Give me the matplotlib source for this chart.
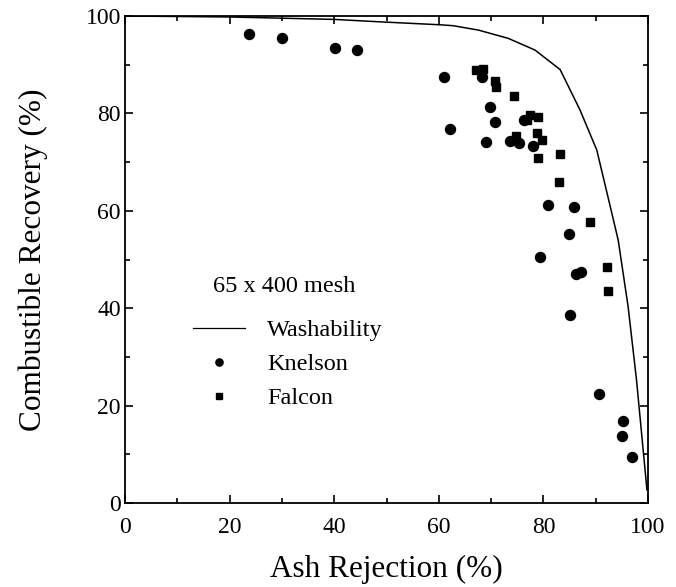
import matplotlib
matplotlib.use("Agg")
import matplotlib.pyplot as plt
from matplotlib.lines import Line2D
from matplotlib.ticker import MultipleLocator

plt.rcParams['font.family'] = ['Liberation Serif', 'DejaVu Serif']

# Washability curve
wash_x = [0, 20, 40, 48.8, 60.2, 62.8, 67.6, 73.3, 78.4, 83.2, 87.0, 90.2, 92.4, 94.3, 96.2, 97.8, 99.8]
wash_y = [100, 99.8, 99.3, 98.8, 98.2, 98.0, 97.1, 95.4, 93.0, 89.0, 80.7, 72.5, 62.6, 54.0, 40.3, 25.3, 2.7]

# Knelson
knelson_x = [23.8, 30.1, 40.2, 44.3, 60.9, 62.1, 68.2, 69.8, 70.8, 69.0, 73.6, 75.3, 76.3, 78.0,
             80.9, 85.9, 84.9, 79.4, 86.2, 87.2, 85.1, 90.7, 95.3, 95.0, 97.0]
knelson_y = [96.3, 95.5, 93.5, 93.0, 87.4, 76.8, 87.4, 81.3, 78.2, 74.1, 74.4, 74.0, 78.6, 73.4,
             61.1, 60.8, 55.3, 50.6, 47.0, 47.4, 38.6, 22.3, 16.8, 13.8, 9.5]

# Falcon
falcon_x = [67.2, 68.4, 70.8, 71.0, 74.4, 77.4, 79.0, 76.9, 78.7, 79.8, 74.8, 79.0, 83.2, 82.9, 88.9, 92.1, 92.4]
falcon_y = [88.9, 89.2, 86.7, 85.4, 83.6, 79.7, 79.2, 78.6, 76.0, 74.5, 75.4, 70.8, 71.6, 66.0, 57.8, 48.5, 43.6]

legend_title = '65 x 400 mesh'
legend_labels = ['Washability', 'Knelson', 'Falcon']

fig = plt.figure(figsize=(6.76, 5.87), dpi=100)
ax = fig.add_axes([125/676, 1-503/587, 523/676, 487/587])

ax.plot(wash_x, wash_y, color='black', lw=1.1)
ax.plot(knelson_x, knelson_y, 'o', color='black', ms=7.2, ls='none')
ax.plot(falcon_x, falcon_y, 's', color='black', ms=6.3, ls='none')

ax.set_xlim(0, 100)
ax.set_ylim(0, 100)
ax.xaxis.set_major_locator(MultipleLocator(20))
ax.xaxis.set_minor_locator(MultipleLocator(10))
ax.yaxis.set_major_locator(MultipleLocator(20))
ax.yaxis.set_minor_locator(MultipleLocator(10))
ax.tick_params(which='both', direction='in', top=True, right=True, labelsize=17, width=1.2)
ax.tick_params(axis='x', pad=10)
ax.tick_params(axis='y', pad=3)
ax.tick_params(which='major', length=6)
ax.tick_params(which='minor', length=3.5)
for s in ax.spines.values():
    s.set_linewidth(1.3)

ax.set_xlabel('Ash Rejection (%)', fontsize=22.5, labelpad=12)
ax.set_ylabel('Combustible Recovery (%)', fontsize=22.5, labelpad=27)

fig.text(213/676, 1-287/587, legend_title, fontsize=17.5, ha='left', va='center')

handles = [
    Line2D([], [], color='black', lw=0.9),
    Line2D([], [], marker='o', color='black', ls='none', ms=5.2),
    Line2D([], [], marker='s', color='black', ls='none', ms=4.6),
]
leg = ax.legend(handles, legend_labels, frameon=False, fontsize=17.5,
                loc='upper left',
                bbox_to_anchor=(193/676, 1-319/587), bbox_transform=fig.transFigure,
                handlelength=2.14, handletextpad=0.9, labelspacing=0.5, borderpad=0,
                borderaxespad=0)

fig.savefig('out.png', dpi=100)
